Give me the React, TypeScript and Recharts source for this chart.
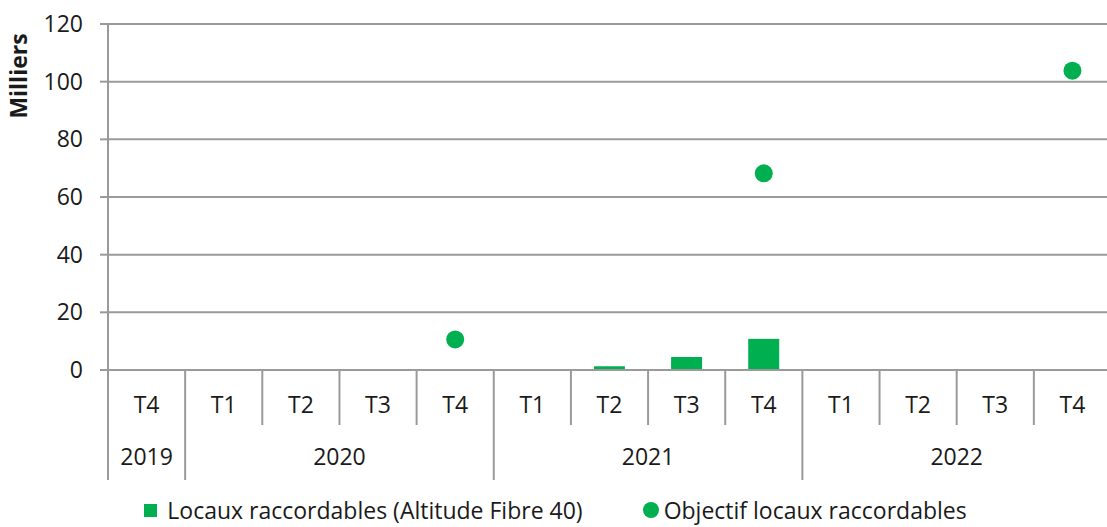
import { ComposedChart, Bar, Line, XAxis, YAxis, CartesianGrid, Legend, Label } from 'recharts';

const quarters = ['T4', 'T1', 'T2', 'T3', 'T4', 'T1', 'T2', 'T3', 'T4', 'T1', 'T2', 'T3', 'T4'];
const years = ['2019', '2020', '2020', '2020', '2020', '2021', '2021', '2021', '2021', '2022', '2022', '2022', '2022'];
const raccordables = [null, null, null, null, null, null, 1.3, 4.5, 10.8, null, null, null, null];
const objectif = [null, null, null, null, 10.6, null, null, null, 68.2, null, null, null, 103.8];
const yTicks = [0, 20, 40, 60, 80, 100, 120];

const GREEN = '#00B050';
const GRID = '#9a9a9a';
const TEXT = '#1a1a1a';
const FONT = '"Open Sans", sans-serif';
const FS = 23;

const W = 1107;
const H = 527;
const MARGIN = { top: 24, right: -4, left: 0, bottom: 0 };
const Y_WIDTH = 108;
const BAND = (W - MARGIN.left - MARGIN.right - Y_WIDTH) / quarters.length;

const data = quarters.map((q, i) => ({
  key: `${years[i]}-${q}`,
  q,
  year: years[i],
  raccordables: raccordables[i],
  objectif: objectif[i],
}));

function QuarterTick(props: any) {
  const { x, y, index } = props;
  const year = years[index];
  const isFirst = index === 0 || years[index - 1] !== year;
  const isLast = index === years.length - 1 || years[index + 1] !== year;
  const left = x - BAND / 2;
  const right = x + BAND / 2;
  const count = years.filter(v => v === year).length;
  return (
    <g>
      <text x={x} y={y + 43} textAnchor="middle" fontSize={FS} fill={TEXT} fontFamily={FONT}>
        {quarters[index]}
      </text>
      {index === 0 && <line x1={left} x2={left} y1={y} y2={y + 110} stroke={GRID} strokeWidth={2} />}
      <line x1={right} x2={right} y1={y} y2={isLast ? y + 110 : y + 55} stroke={GRID} strokeWidth={2} />
      {isFirst && (
        <text x={left + (count * BAND) / 2} y={y + 95} textAnchor="middle" fontSize={FS} fill={TEXT} fontFamily={FONT}>
          {year}
        </text>
      )}
    </g>
  );
}

function LegendContent() {
  return (
    <div style={{ height: 47, display: 'flex', justifyContent: 'center', alignItems: 'center', paddingTop: 13, boxSizing: 'border-box', fontFamily: FONT, fontSize: FS, color: TEXT }}>
      <div style={{ display: 'flex', alignItems: 'center', marginRight: 60 }}>
        <span style={{ width: 13, height: 13, background: GREEN, display: 'inline-block', marginRight: 10 }} />
        <span>Locaux raccordables (Altitude Fibre 40)</span>
      </div>
      <div style={{ display: 'flex', alignItems: 'center' }}>
        <span style={{ width: 16, height: 16, borderRadius: '50%', background: GREEN, display: 'inline-block', marginRight: 5 }} />
        <span>Objectif locaux raccordables</span>
      </div>
    </div>
  );
}

export default function App() {
  return (
    <div style={{ position: 'absolute', left: 0, top: 0, background: '#fff' }}>
      <ComposedChart width={W} height={H} data={data} margin={MARGIN}>
        <CartesianGrid vertical={false} stroke={GRID} strokeWidth={2} />
        <XAxis
          dataKey="key"
          height={110}
          interval={0}
          tickLine={false}
          tickSize={0}
          tickMargin={0}
          axisLine={{ stroke: GRID, strokeWidth: 2 }}
          tick={<QuarterTick />}
        />
        <YAxis
          width={Y_WIDTH}
          domain={[0, 120]}
          ticks={yTicks}
          interval={0}
          tickSize={8}
          tickMargin={17}
          axisLine={{ stroke: GRID, strokeWidth: 2 }}
          tickLine={{ stroke: GRID, strokeWidth: 2 }}
          tick={{ fontSize: FS, fill: TEXT, fontFamily: FONT }}
        >
          <Label
            content={() => (
              <text
                x={27}
                y={76}
                transform="rotate(-90 27 76)"
                textAnchor="middle"
                fontSize={FS}
                fontWeight="bold"
                fill={TEXT}
                fontFamily={FONT}
              >
                Milliers
              </text>
            )}
          />
        </YAxis>
        <Legend verticalAlign="bottom" content={<LegendContent />} />
        <Bar dataKey="raccordables" fill={GREEN} barSize={31} isAnimationActive={false} />
        <Line
          dataKey="objectif"
          stroke="none"
          dot={{ r: 9, fill: GREEN, stroke: 'none' }}
          activeDot={false}
          isAnimationActive={false}
        />
      </ComposedChart>
    </div>
  );
}
